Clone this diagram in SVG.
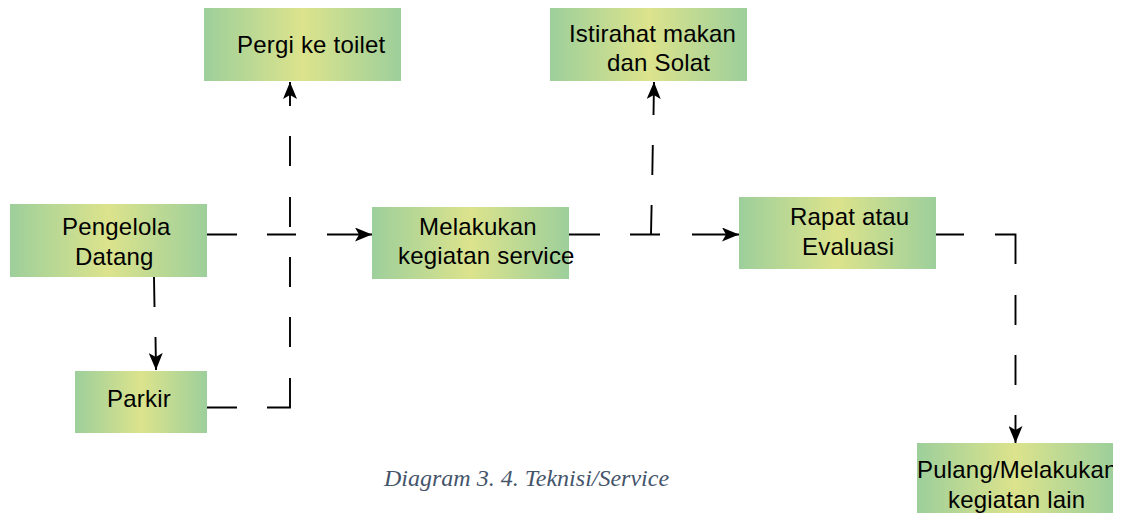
<svg xmlns="http://www.w3.org/2000/svg" width="1125" height="513" viewBox="0 0 1125 513">
  <style>
    .box { fill: url(#g); }
    .t { font-family: "Liberation Sans", Arial, sans-serif; font-size: 24px; letter-spacing: 0.2px; fill: #000; }
    .c { fill: none; stroke: #000; stroke-width: 1.9; stroke-linejoin: miter; stroke-linecap: butt; marker-end: url(#arr); }
    .cap { font-family: "Liberation Serif", "Times New Roman", serif; font-style: italic; font-size: 24px; fill: #44546a; }
  </style>
  <defs>
    <linearGradient id="g" x1="0" y1="0" x2="1" y2="0">
      <stop offset="0" stop-color="#9dcf9b"/>
      <stop offset="0.5" stop-color="#dce38c"/>
      <stop offset="1" stop-color="#9dcf9b"/>
    </linearGradient>
    <marker id="arr" viewBox="0 0 17 14" refX="17" refY="7" markerWidth="17" markerHeight="14" markerUnits="userSpaceOnUse" orient="auto">
      <path d="M0,0 L17,7 L0,14 L4,7 z" fill="#000"/>
    </marker>
    <clipPath id="clipPulang">
      <rect x="917" y="443" width="196" height="70"/>
    </clipPath>
  </defs>
  <rect width="1125" height="513" fill="#fff"/>

  <g id="connectors">
    <path class="c" d="M207,234.5 H237 M267,234.5 H296 M327,234.5 H372"/>
    <path class="c" d="M207,407.5 H237 M267,407.5 H290 V378 M290,347 V317 M290,287 V257 M290,227 V197 M290,166 V136 M290,106 V82"/>
    <path class="c" d="M154,277 L154.5,307 M155.5,337 L156,370"/>
    <path class="c" d="M569,234.5 H600 M630,234.5 H660 M692,234.5 H739"/>
    <path class="c" d="M651,234.5 L651.6,205 M652.3,175 L652.8,145 M653.5,115 L654,82"/>
    <path class="c" d="M935,234.5 H964 M995,234.5 H1015.5 V264 M1015.5,295 V325 M1015.5,355 V385 M1015.5,415 V443"/>
  </g>

  <g id="node-toilet">
    <rect class="box" x="204" y="8" width="197" height="73"/>
    <text class="t" x="237" y="52.5">Pergi ke toilet</text>
  </g>
  <g id="node-istirahat">
    <rect class="box" x="550" y="8" width="197" height="73"/>
    <text class="t" x="569" y="42">Istirahat makan</text>
    <text class="t" x="607" y="71">dan Solat</text>
  </g>
  <g id="node-pengelola">
    <rect class="box" x="10" y="204" width="197" height="73"/>
    <text class="t" x="62" y="235">Pengelola</text>
    <text class="t" x="75" y="264.5">Datang</text>
  </g>
  <g id="node-parkir">
    <rect class="box" x="75" y="371" width="132" height="62"/>
    <text class="t" x="107" y="407">Parkir</text>
  </g>
  <g id="node-melakukan">
    <rect class="box" x="372" y="207" width="197" height="72"/>
    <text class="t" x="419" y="234.5">Melakukan</text>
    <text class="t" x="398" y="263.5">kegiatan service</text>
  </g>
  <g id="node-rapat">
    <rect class="box" x="739" y="197" width="197" height="72"/>
    <text class="t" x="790" y="225">Rapat atau</text>
    <text class="t" x="802" y="255">Evaluasi</text>
  </g>
  <g id="node-pulang">
    <rect class="box" x="917" y="443" width="196" height="75"/>
    <g clip-path="url(#clipPulang)">
      <text class="t" x="917" y="478">Pulang/Melakukan</text>
      <text class="t" x="948" y="508">kegiatan lain</text>
    </g>
  </g>

  <text class="cap" x="384" y="486">Diagram 3. 4. Teknisi/Service</text>
</svg>
